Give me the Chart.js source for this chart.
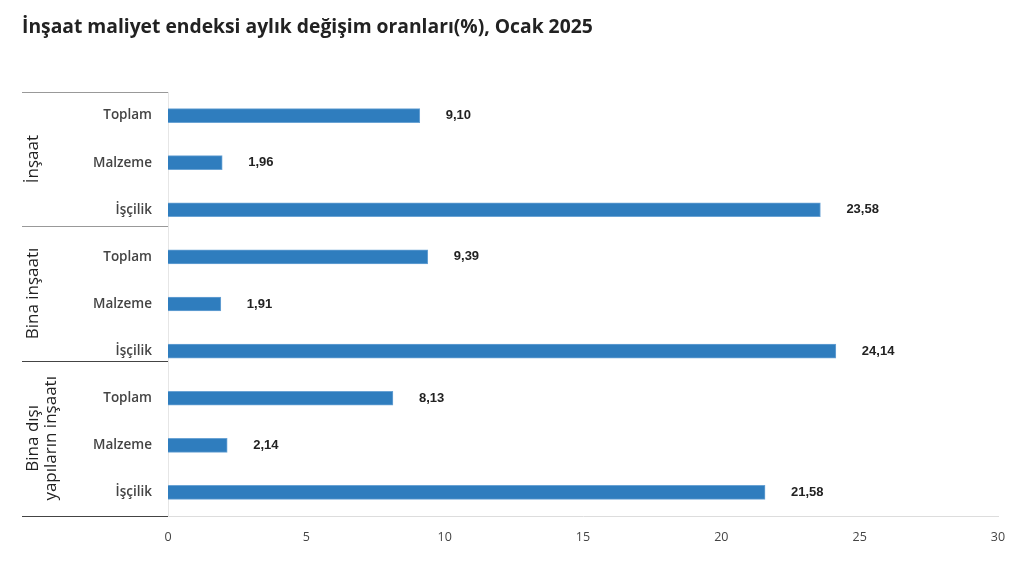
<!DOCTYPE html>
<html lang="tr">
<head>
<meta charset="utf-8">
<script src="https://cdn.jsdelivr.net/npm/chart.js@4/dist/chart.umd.min.js"></script>
<style>
  html, body { margin: 0; padding: 0; background: #fff; }
  canvas { display: block; }
</style>
</head>
<body>
<canvas id="grafik" width="1024" height="565"></canvas>
<script>
// Veriler
const kategoriler = ["Toplam", "Malzeme", "İşçilik", "Toplam", "Malzeme", "İşçilik", "Toplam", "Malzeme", "İşçilik"];
const degerler = [9.10, 1.96, 23.58, 9.39, 1.91, 24.14, 8.13, 2.14, 21.58];
const gruplar = [["İnşaat"], ["Bina inşaatı"], ["Bina dışı", "yapıların inşaatı"]];
const xTikler = [0, 5, 10, 15, 20, 25, 30];

// Başlık, grup etiketleri, ayırıcı çizgiler ve değer etiketleri
const ekstralar = {
  id: "ekstralar",
  afterDraw(chart) {
    const ctx = chart.ctx;
    const area = chart.chartArea;
    const y = chart.scales.y;
    ctx.save();

    // başlık
    ctx.fillStyle = "#222";
    ctx.font = "bold 19.3px 'Open Sans', sans-serif";
    ctx.textAlign = "left";
    ctx.textBaseline = "middle";
    ctx.fillText("İnşaat maliyet endeksi aylık değişim oranları(%), Ocak 2025", 22, 28);

    // ayırıcı çizgiler
    const ayiricilar = [
      { y: area.top, renk: "#999" },
      { y: y.getPixelForValue(2.5) - 7, renk: "#999" },
      { y: y.getPixelForValue(5.5) - 14, renk: "#444" },
      { y: area.bottom, renk: "#444" }
    ];
    ayiricilar.forEach(a => {
      ctx.strokeStyle = a.renk;
      ctx.lineWidth = 1;
      ctx.beginPath();
      ctx.moveTo(22, Math.round(a.y) + 0.5);
      ctx.lineTo(area.left, Math.round(a.y) + 0.5);
      ctx.stroke();
    });

    // grup etiketleri (dikey)
    ctx.fillStyle = "#222";
    ctx.font = "17px 'Open Sans', sans-serif";
    ctx.textAlign = "center";
    ctx.textBaseline = "middle";
    const merkezler = [
      (ayiricilar[0].y + ayiricilar[1].y) / 2,
      (ayiricilar[1].y + ayiricilar[2].y) / 2,
      (ayiricilar[2].y + ayiricilar[3].y) / 2
    ];
    gruplar.forEach((satirlar, i) => {
      ctx.save();
      const n = satirlar.length;
      ctx.translate(n > 1 ? 42 : 33, merkezler[i]);
      ctx.rotate(-Math.PI / 2);
      satirlar.forEach((s, j) => {
        ctx.fillText(s, 0, (j - (n - 1) / 2) * 18);
      });
      ctx.restore();
    });

    // değer etiketleri
    ctx.fillStyle = "#222";
    ctx.font = "bold 13px 'Liberation Sans', Arial, sans-serif";
    ctx.textAlign = "left";
    ctx.textBaseline = "middle";
    chart.getDatasetMeta(0).data.forEach((bar, i) => {
      ctx.fillText(degerler[i].toFixed(2).replace(".", ","), bar.x + 26, bar.y);
    });

    ctx.restore();
  }
};

new Chart(document.getElementById("grafik"), {
  type: "bar",
  data: {
    labels: kategoriler,
    datasets: [
      {
        data: degerler,
        backgroundColor: "#2f7dbe",
        borderColor: "#6aa3d4",
        borderWidth: 1,
        barThickness: 14
      }
    ]
  },
  options: {
    indexAxis: "y",
    responsive: false,
    animation: false,
    layout: { padding: { left: 22, top: 92, right: 26, bottom: 0 } },
    plugins: {
      legend: { display: false },
      tooltip: { enabled: false }
    },
    scales: {
      x: {
        min: 0,
        max: 30,
        afterBuildTicks: s => { s.ticks = xTikler.map(v => ({ value: v })); },
        afterFit: s => { s.height = 49; },
        border: { color: "#ddd" },
        grid: { display: false, drawTicks: false },
        ticks: {
          color: "#444",
          padding: 14,
          font: { size: 12.5, family: "'Open Sans', sans-serif" }
        }
      },
      y: {
        afterFit: s => { s.width = 146; },
        border: { color: "#e6e6e6" },
        grid: { display: false, drawTicks: false },
        ticks: {
          color: "#444",
          padding: 16,
          font: { size: 13.5, weight: "600", family: "'Open Sans', sans-serif" }
        }
      }
    }
  },
  plugins: [ekstralar]
});
</script>
</body>
</html>
